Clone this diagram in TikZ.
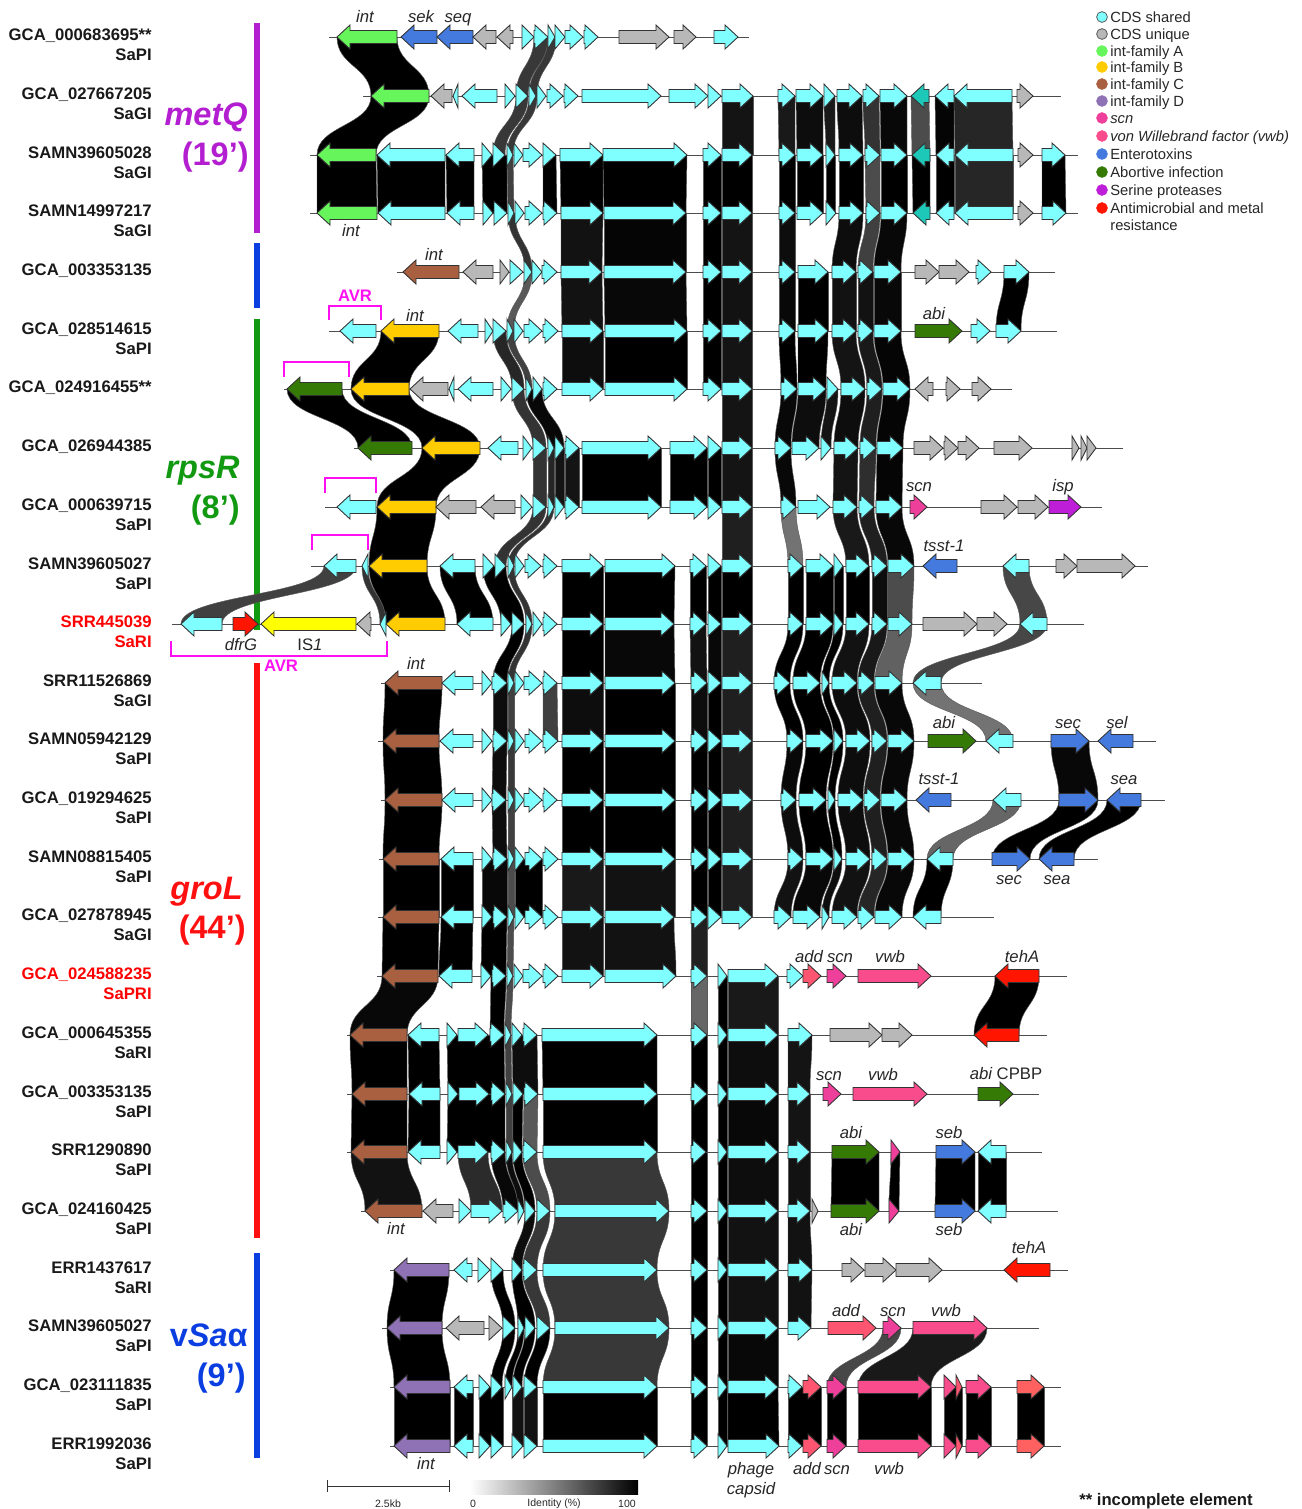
\documentclass[tikz,border=0pt]{standalone}
\usepackage{fontspec}
\setmainfont{Liberation Sans}
\definecolor{cds}{HTML}{7FFFFF}
\definecolor{unq}{HTML}{B8B8B8}
\definecolor{tlc}{HTML}{1EC8B8}
\definecolor{intA}{HTML}{66F55A}
\definecolor{intB}{HTML}{FFCC00}
\definecolor{intC}{HTML}{A86040}
\definecolor{intD}{HTML}{8F72B5}
\definecolor{scnc}{HTML}{EE409A}
\definecolor{vwbc}{HTML}{F84C8C}
\definecolor{addc}{HTML}{FF5570}
\definecolor{salm}{HTML}{FF6060}
\definecolor{ent}{HTML}{4479DD}
\definecolor{abic}{HTML}{357A05}
\definecolor{ser}{HTML}{BE1ED8}
\definecolor{amr}{HTML}{FF1500}
\definecolor{isc}{HTML}{FFFF00}
\definecolor{barP}{HTML}{B31FD0}
\definecolor{barB}{HTML}{0A3EE0}
\definecolor{barG}{HTML}{119911}
\definecolor{barR}{HTML}{FF1010}
\definecolor{avrc}{HTML}{FF10F0}
\tikzset{
  backbone/.style={draw=black!70, line width=0.5pt},
  genearrow/.style={draw=black!80, line width=0.5pt, line join=miter},
  sidebar/.style={line width=3.2pt},
  accession/.style={font=\fontsize{9.5}{11}\selectfont\bfseries, anchor=base east, inner sep=0pt, text=black!90},
  genetag/.style={font=\fontsize{9.5}{11}\selectfont\itshape, text height=1.5ex, text depth=0.45ex, inner sep=0pt, yshift=-0.02cm, text=black!85},
  avrtag/.style={font=\fontsize{9.5}{11}\selectfont\bfseries, text=avrc, inner sep=0pt},
  avrbox/.style={draw=avrc, line width=0.8pt},
  bigtag/.style={font=\fontsize{18.5}{21}\selectfont\bfseries, anchor=base east, inner sep=0pt},
  legendtxt/.style={font=\fontsize{8.4}{10}\selectfont, anchor=west, inner sep=0pt, text height=1.5ex, text depth=0.4ex, text=black!85},
  smalltxt/.style={font=\fontsize{6}{7}\selectfont, inner sep=0pt, text=black!85}
}
\newcommand{\gene}[4]{%
  \pgfmathsetmacro{\neck}{#2-ifthenelse(#2>#1,1,-1)*min(13,abs(#2-#1))}
  \draw[genearrow, fill=#4] (#1,#3-6.5) -- (\neck,#3-6.5) -- (\neck,#3-12) -- (#2,#3)
    -- (\neck,#3+12) -- (\neck,#3+6.5) -- (#1,#3+6.5) -- cycle;
}
\newcommand{\track}[4]{%
  \draw[backbone] (#2,#1) -- (#3,#1);
  \foreach \tl/\hd/\col in {#4}{\gene{\tl}{\hd}{#1}{\col}}
}
\newcommand{\ribbon}[3]{%
  \pgfmathsetmacro{\ymid}{(#1+#2)/2}
  \foreach \aL/\aR/\bL/\bR/\dk in {#3}{
    \filldraw[fill=black!\dk!white, draw=black!65, line width=0.25pt]
      (\aL,#1) .. controls (\aL,\ymid) and (\bL,\ymid) .. (\bL,#2) -- (\bR,#2)
      .. controls (\bR,\ymid) and (\aR,\ymid) .. (\aR,#1) -- cycle;
  }
}
\begin{document}
\begin{tikzpicture}[x=0.02cm, y=-0.02cm]
  \useasboundingbox (0,0) rectangle (1302,1509);

  \draw[sidebar, barP] (257,23) -- (257,233);
  \draw[sidebar, barB] (257,243) -- (257,308);
  \draw[sidebar, barG] (257,319) -- (257,630);
  \draw[sidebar, barR] (257,663) -- (257,1238);
  \draw[sidebar, barB] (257,1253) -- (257,1458);

  \ribbon{37}{96}{337/397/371/429/100, 534/548/516/528/78, 548/556/529/537/78}
  \ribbon{96}{155}{371/429/317/376/100, 516/528/493/505/78, 529/537/507/513/78, 722/753/722/753/92, 778/795/779/795/90, 796/823/797/823/95, 824/835/826/835/90, 837/862/839/863/95, 863/879/865/880/80, 880/907/881/907/97, 911/929/912/930/70, 935/954/936/954/98, 954/1012/955/1013/85}
  \ribbon{155}{213}{317/376/317/377/100, 377/445/378/445/100, 446/474/447/474/100, 482/507/483/507/100, 507/513/508/514/75, 543/556/543/557/100, 560/603/561/603/100, 603/687/604/686/100, 703/721/703/721/100, 722/752/722/752/100, 779/795/779/795/100, 797/823/797/823/100, 826/835/826/835/100, 839/863/839/863/100, 865/880/866/880/70, 881/907/881/907/100, 912/930/913/930/100, 936/954/936/954/100, 955/1013/955/1013/85, 1042/1065/1042/1066/100}
  \ribbon{213}{272}{508/515/525/532/80, 561/603/561/602/93, 604/686/604/686/98, 703/721/703/721/100, 722/752/722/752/92, 779/795/779/795/95, 839/863/832/856/95, 866/880/858/873/75, 881/907/874/901/97}
  \ribbon{272}{331}{525/532/507/514/65, 561/602/562/603/93, 604/686/605/687/97, 703/721/703/721/100, 722/752/722/752/93, 779/795/779/795/97, 798/828/798/828/100, 832/856/832/856/93, 858/873/858/873/93, 874/901/874/901/97, 1004/1029/996/1021/100}
  \ribbon{331}{389}{381/439/351/409/100, 493/506/512/524/85, 507/514/526/532/75, 562/603/562/603/95, 605/687/605/687/100, 703/721/703/721/100, 722/752/722/752/92, 779/795/781/797/100, 798/828/798/826/100, 832/856/841/865/92, 858/873/867/882/90, 874/901/883/910/98}
  \ribbon{389}{448}{287/342/358/412/100, 351/409/422/480/100, 512/524/533/546/80, 526/542/548/564/97, 722/752/722/752/92, 781/797/775/791/97, 798/826/792/819/95, 827/838/821/831/92, 841/865/834/858/95, 867/882/860/876/88, 883/910/877/903/98}
  \ribbon{448}{507}{422/480/377/436/100, 533/546/533/546/80, 548/554/548/554/85, 555/564/555/564/92, 565/579/565/579/92, 582/661/582/661/100, 670/707/670/707/100, 708/721/708/721/100, 722/752/722/752/92, 775/791/781/796/97, 834/858/833/857/92, 860/876/859/874/82, 877/903/876/902/98}
  \ribbon{507}{566}{377/436/369/427/100, 533/546/495/506/80, 548/554/508/514/80, 722/752/722/752/88, 781/796/788/803/55, 833/857/846/869/90, 859/874/872/887/88, 876/902/888/914/97}
  \ribbon{566}{624}{324/356/181/222/75, 362/368/380/386/80, 369/427/386/445/100, 440/475/457/493/100, 483/506/501/524/100, 508/514/526/532/80, 562/603/562/603/100, 605/675/605/674/100, 690/706/690/706/100, 708/721/708/721/100, 722/752/722/752/100, 788/803/788/803/100, 806/833/806/833/100, 834/843/834/843/100, 846/869/846/869/100, 872/887/872/887/95, 888/914/888/912/70, 1003/1029/1020/1047/72}
  \ribbon{624}{683}{512/524/493/507/100, 526/532/508/514/80, 562/603/562/603/100, 605/674/605/675/97, 690/706/691/707/93, 708/721/708/721/97, 722/752/722/752/88, 788/803/774/790/100, 806/833/793/820/100, 834/843/822/829/100, 846/869/832/857/93, 872/887/858/874/90, 888/912/875/902/62, 1020/1047/913/941/72}
  \ribbon{683}{741}{385/442/383/439/100, 493/507/493/507/95, 508/514/508/514/75, 543/557/543/558/75, 562/603/562/603/95, 605/675/605/675/100, 691/707/691/707/95, 708/721/708/721/100, 722/752/722/752/88, 774/790/787/803/100, 793/820/806/833/100, 822/829/834/843/100, 832/857/846/870/95, 858/874/872/887/88, 875/902/888/914/97, 913/941/986/1013/55}
  \ribbon{741}{800}{383/439/385/442/100, 493/507/492/506/95, 508/514/508/514/78, 562/603/562/603/100, 605/675/605/675/100, 691/707/691/707/100, 708/721/708/721/100, 722/752/722/752/88, 787/803/781/796/97, 806/833/799/826/100, 834/843/828/835/100, 846/870/838/863/95, 872/887/864/880/88, 888/914/881/907/97, 1051/1089/1059/1098/97}
  \ribbon{800}{859}{385/442/383/439/100, 492/506/493/507/95, 508/514/508/514/75, 562/603/562/603/100, 605/675/605/675/100, 691/707/691/707/100, 708/721/708/721/100, 722/752/722/752/88, 781/796/788/803/95, 799/826/806/833/100, 828/835/834/842/100, 838/863/846/870/95, 864/880/872/887/88, 881/907/888/914/97, 993/1021/927/953/60, 1059/1098/992/1030/100, 1107/1141/1039/1074/100}
  \ribbon{859}{917}{383/439/383/439/100, 441/473/441/473/100, 482/507/482/507/97, 508/514/508/514/70, 515/542/515/542/100, 562/603/562/603/90, 605/675/605/675/93, 691/707/691/707/100, 708/721/708/721/100, 722/752/722/752/88, 788/803/774/791/93, 806/833/793/820/97, 834/842/822/829/95, 846/870/832/857/93, 872/887/858/874/85, 888/914/875/902/97, 927/953/913/941/100}
  \ribbon{917}{976}{383/439/382/438/100, 441/473/439/472/100, 482/507/481/506/100, 508/514/507/513/70, 562/603/562/603/93, 605/674/605/676/93, 691/707/691/707/87}
  \ribbon{976}{1035}{382/438/350/407/97, 491/506/490/504/100, 507/513/505/511/70, 691/707/691/707/60, 718/727/718/727/100, 728/778/728/778/90, 995/1039/974/1019/100}
  \ribbon{1035}{1094}{350/407/352/407/100, 408/439/409/440/100, 447/504/448/505/100, 505/511/506/512/75, 512/537/513/538/95, 542/657/543/657/100, 691/707/691/707/100, 718/727/718/727/100, 728/778/728/778/95, 788/812/788/810/92}
  \ribbon{1094}{1152}{352/407/351/407/100, 409/440/408/440/100, 448/505/447/505/100, 506/512/506/512/75, 513/523/513/522/100, 524/538/523/537/65, 543/657/543/657/100, 691/707/691/707/100, 718/727/718/727/100, 728/778/728/778/97, 788/810/788/810/92}
  \ribbon{1152}{1211}{351/407/365/422/93, 458/488/471/502/83, 491/505/503/518/97, 506/512/518/524/95, 513/522/525/535/100, 523/537/537/550/70, 543/657/555/669/78, 691/707/691/707/100, 718/727/718/727/100, 728/778/728/778/95, 788/810/788/810/93, 832/879/831/879/100, 891/900/889/899/100, 936/975/935/975/100, 978/1006/978/1006/100}
  \ribbon{1211}{1270}{525/535/512/522/95, 537/550/523/537/78, 555/669/543/657/78, 691/707/691/707/100, 718/727/718/727/100, 728/778/728/778/93, 788/810/788/812/93}
  \ribbon{1270}{1328}{394/449/387/442/100, 491/503/503/515/100, 512/522/518/535/100, 523/537/537/550/78, 543/657/555/669/78, 691/707/691/707/100, 718/727/718/727/100, 728/778/728/778/93, 788/812/788/811/93}
  \ribbon{1328}{1387}{387/442/394/450/100, 503/515/491/502/100, 518/524/505/512/100, 525/535/513/522/100, 537/550/524/537/100, 555/669/543/657/78, 691/707/691/707/100, 718/727/718/727/100, 728/778/728/778/97, 883/901/827/846/72, 913/987/858/931/90}
  \ribbon{1387}{1446}{394/450/394/450/100, 454/473/454/473/100, 479/503/479/503/100, 512/523/512/523/93, 524/537/524/537/93, 543/657/543/657/100, 691/707/691/707/100, 718/727/718/727/100, 728/778/728/779/100, 788/821/788/821/100, 827/846/827/846/100, 858/931/858/931/100, 944/962/944/962/100, 966/991/966/991/100, 1017/1044/1017/1044/100}

  \track{37}{329}{749}{397/337/intA, 437/401/ent, 473/437/ent, 496/473/unq, 513/497/unq, 522/534/cds, 534/548/cds, 548/555/cds, 555/565/cds, 565/583/cds, 584/598/cds, 619/669/unq, 674/696/unq, 714/738/cds}
  \track{96}{363}{1061}{429/371/intA, 452/431/unq, 458/453/cds, 497/462/cds, 505/515/cds, 516/528/cds, 529/536/cds, 537/546/cds, 547/563/cds, 564/578/cds, 582/661/cds, 669/708/cds, 708/721/cds, 722/753/cds, 778/795/cds, 796/823/cds, 824/835/cds, 837/862/cds, 863/879/cds, 880/907/cds, 929/911/tlc, 954/935/cds, 1012/954/cds, 1017/1033/unq}
  \track{155}{310}{1078}{376/317/intA, 445/377/cds, 474/446/cds, 482/492/cds, 493/505/cds, 507/513/cds, 514/523/cds, 523/542/cds, 543/556/cds, 560/603/cds, 603/687/cds, 703/721/cds, 722/752/cds, 779/795/cds, 797/823/cds, 826/835/cds, 839/863/cds, 865/880/cds, 881/907/cds, 930/912/tlc, 954/936/cds, 1013/955/cds, 1018/1033/unq, 1042/1065/cds}
  \track{213}{310}{1078}{377/317/intA, 445/378/cds, 474/447/cds, 483/493/cds, 494/507/cds, 508/514/cds, 515/524/cds, 525/542/cds, 543/557/cds, 561/603/cds, 604/686/cds, 703/721/cds, 722/752/cds, 779/795/cds, 797/823/cds, 826/836/cds, 839/863/cds, 866/880/cds, 881/907/cds, 930/913/tlc, 954/936/cds, 1013/955/cds, 1018/1033/unq, 1042/1066/cds}
  \track{272}{397}{1055}{459/403/intC, 493/463/unq, 500/509/unq, 510/523/cds, 524/532/cds, 532/542/cds, 542/557/cds, 561/602/cds, 604/686/cds, 703/721/cds, 722/752/cds, 779/795/cds, 798/828/cds, 832/856/cds, 858/873/cds, 874/901/cds, 915/939/unq, 939/969/unq, 976/991/cds, 1004/1029/cds}
  \track{331}{329}{1057}{376/340/cds, 439/381/intB, 478/448/cds, 485/493/cds, 493/506/cds, 507/513/cds, 514/523/cds, 524/542/cds, 543/558/cds, 562/603/cds, 605/687/cds, 703/721/cds, 722/752/cds, 779/795/cds, 798/828/cds, 832/856/cds, 858/873/cds, 874/901/cds, 915/962/abic, 971/990/cds, 996/1021/cds}
  \track{389}{284}{1012}{342/287/abic, 409/351/intB, 448/410/unq, 454/449/cds, 493/458/cds, 501/511/cds, 512/524/cds, 526/532/cds, 533/542/cds, 543/557/cds, 562/603/cds, 605/687/cds, 703/721/cds, 722/752/cds, 781/797/cds, 798/826/cds, 827/838/cds, 841/865/cds, 867/882/cds, 883/910/cds, 933/915/unq, 946/960/unq, 972/991/unq}
  \track{448}{354}{1123}{412/358/abic, 480/422/intB, 518/488/cds, 523/532/cds, 533/546/cds, 548/554/cds, 555/564/cds, 565/579/cds, 582/661/cds, 670/707/cds, 708/721/cds, 722/752/cds, 775/791/cds, 792/819/cds, 821/831/cds, 834/858/cds, 860/876/cds, 877/903/cds, 914/943/unq, 944/958/unq, 958/979/unq, 994/1032/unq, 1072/1079/unq, 1081/1087/unq, 1087/1096/unq}
  \track{507}{325}{1102}{376/337/cds, 436/377/intB, 476/436/unq, 515/481/unq, 521/532/cds, 533/546/cds, 548/554/cds, 555/564/cds, 565/579/cds, 582/661/cds, 670/707/cds, 708/721/cds, 722/752/cds, 781/796/cds, 798/830/cds, 833/857/cds, 859/874/cds, 876/902/cds, 910/927/scnc, 981/1017/unq, 1018/1048/unq, 1049/1081/ser}
  \track{566}{311}{1148}{356/324/cds, 368/362/cds, 427/369/intB, 475/440/cds, 483/494/cds, 495/506/cds, 508/514/cds, 515/524/cds, 525/541/cds, 543/557/cds, 562/603/cds, 605/675/cds, 690/706/cds, 708/721/cds, 722/752/cds, 788/803/cds, 806/833/cds, 834/843/cds, 846/869/cds, 872/887/cds, 888/914/cds, 957/923/ent, 1029/1003/cds, 1056/1077/unq, 1077/1135/unq}
  \track{624}{172}{1084}{222/181/cds, 233/258/amr, 356/261/isc, 371/357/unq, 386/380/cds, 445/386/intB, 493/457/cds, 501/511/cds, 512/524/cds, 526/532/cds, 533/542/cds, 543/557/cds, 562/603/cds, 605/674/cds, 690/706/cds, 708/721/cds, 722/752/cds, 788/803/cds, 806/833/cds, 834/843/cds, 846/869/cds, 872/887/cds, 888/912/cds, 923/977/unq, 977/1007/unq, 1047/1020/cds}
  \track{683}{381}{982}{442/385/intC, 473/442/cds, 482/492/cds, 492/507/cds, 508/514/cds, 515/524/cds, 524/542/cds, 543/557/cds, 562/603/cds, 605/675/cds, 691/707/cds, 708/721/cds, 722/752/cds, 774/790/cds, 793/820/cds, 822/829/cds, 832/857/cds, 858/874/cds, 875/902/cds, 941/913/cds}
  \track{741}{378}{1156}{439/383/intC, 473/440/cds, 482/492/cds, 493/507/cds, 508/514/cds, 515/524/cds, 525/542/cds, 543/558/cds, 562/603/cds, 605/675/cds, 691/707/cds, 708/721/cds, 722/752/cds, 787/803/cds, 806/833/cds, 834/843/cds, 846/870/cds, 872/887/cds, 888/914/cds, 928/976/abic, 1013/986/cds, 1051/1089/ent, 1133/1098/ent}
  \track{800}{381}{1165}{442/385/intC, 473/442/cds, 482/492/cds, 492/506/cds, 508/514/cds, 515/524/cds, 524/542/cds, 543/557/cds, 562/603/cds, 605/675/cds, 691/707/cds, 708/721/cds, 722/752/cds, 781/796/cds, 799/826/cds, 828/835/cds, 838/863/cds, 864/880/cds, 881/907/cds, 951/916/ent, 1021/993/cds, 1059/1098/ent, 1141/1107/ent}
  \track{859}{379}{1098}{439/383/intC, 473/441/cds, 482/492/cds, 493/507/cds, 508/514/cds, 515/524/cds, 525/542/cds, 543/558/cds, 562/603/cds, 605/675/cds, 691/707/cds, 708/721/cds, 722/752/cds, 788/803/cds, 806/833/cds, 834/842/cds, 846/870/cds, 872/887/cds, 888/914/cds, 953/927/cds, 992/1030/ent, 1074/1039/ent}
  \track{917}{378}{994}{439/383/intC, 473/441/cds, 482/492/cds, 493/507/cds, 508/514/cds, 515/524/cds, 525/542/cds, 543/558/cds, 562/603/cds, 605/674/cds, 691/707/cds, 708/721/cds, 722/752/cds, 774/791/cds, 793/820/cds, 822/829/cds, 832/857/cds, 858/874/cds, 875/902/cds, 941/913/cds}
  \track{976}{377}{1067}{438/382/intC, 472/439/cds, 481/491/cds, 492/506/cds, 507/513/cds, 514/523/cds, 523/542/cds, 543/558/cds, 562/603/cds, 605/676/cds, 691/707/cds, 718/727/cds, 728/778/cds, 787/803/cds, 803/821/addc, 827/846/scnc, 858/931/vwbc, 1039/995/amr}
  \track{1035}{347}{1047}{407/350/intC, 439/408/cds, 447/457/cds, 458/488/cds, 490/504/cds, 505/511/cds, 512/522/cds, 523/537/cds, 542/657/cds, 691/707/cds, 718/727/cds, 728/778/cds, 788/812/cds, 830/882/unq, 882/912/unq, 1019/974/amr}
  \track{1094}{347}{1039}{407/352/intC, 440/409/cds, 448/458/cds, 459/489/cds, 491/505/cds, 506/512/cds, 513/523/cds, 524/538/cds, 543/657/cds, 691/707/cds, 718/727/cds, 728/778/cds, 788/810/cds, 823/841/scnc, 853/927/vwbc, 978/1013/abic}
  \track{1152}{347}{1042}{407/351/intC, 440/408/cds, 447/457/cds, 458/488/cds, 491/505/cds, 506/512/cds, 513/522/cds, 523/537/cds, 543/657/cds, 691/706/cds, 718/727/cds, 728/778/cds, 788/810/cds, 832/879/abic, 891/900/scnc, 936/975/ent, 1006/978/cds}
  \track{1211}{361}{1058}{422/365/intC, 453/423/unq, 459/471/cds, 471/502/cds, 503/518/cds, 518/524/cds, 525/535/cds, 537/550/cds, 555/669/cds, 691/707/cds, 718/727/cds, 728/778/cds, 788/810/cds, 812/818/unq, 831/879/abic, 889/899/scnc, 935/975/ent, 1006/978/cds}
  \track{1270}{390}{1068}{449/394/intD, 472/454/cds, 478/490/cds, 491/503/cds, 512/522/cds, 523/537/cds, 543/657/cds, 691/707/cds, 718/727/cds, 728/778/cds, 788/812/cds, 842/864/unq, 865/896/unq, 896/942/unq, 1050/1004/amr}
  \track{1328}{382}{1039}{442/387/intD, 484/446/unq, 489/502/unq, 503/515/cds, 518/524/cds, 525/535/cds, 537/550/cds, 555/669/cds, 691/707/cds, 718/727/cds, 728/778/cds, 788/811/cds, 828/876/addc, 883/901/scnc, 913/987/vwbc}
  \track{1387}{390}{1061}{450/394/intD, 473/454/cds, 479/490/cds, 491/502/cds, 505/512/cds, 513/522/cds, 524/537/cds, 543/657/cds, 691/707/cds, 718/727/cds, 728/778/cds, 788/802/cds, 803/821/addc, 827/846/scnc, 858/931/vwbc, 944/956/vwbc, 956/962/addc, 966/991/vwbc, 1017/1044/salm}
  \track{1446}{390}{1061}{450/394/intD, 473/454/cds, 479/490/cds, 491/503/cds, 512/523/cds, 524/537/cds, 543/657/cds, 691/707/cds, 718/727/cds, 728/779/cds, 788/802/cds, 803/821/addc, 827/846/scnc, 858/931/vwbc, 944/956/vwbc, 956/962/addc, 966/991/vwbc, 1017/1044/salm}

  \foreach \y/\acc in {37/GCA\_000683695**, 96/GCA\_027667205, 155/SAMN39605028, 213/SAMN14997217, 272/GCA\_003353135, 331/GCA\_028514615, 389/GCA\_024916455**, 448/GCA\_026944385, 507/GCA\_000639715, 566/SAMN39605027, 683/SRR11526869, 741/SAMN05942129, 800/GCA\_019294625, 859/SAMN08815405, 917/GCA\_027878945, 1035/GCA\_000645355, 1094/GCA\_003353135, 1152/SRR1290890, 1211/GCA\_024160425, 1270/ERR1437617, 1328/SAMN39605027, 1387/GCA\_023111835, 1446/ERR1992036}
    \node[accession] (acc\y) at (152,\y+3.5) {\acc};
  \foreach \y/\typ in {37/SaPI, 96/SaGI, 155/SaGI, 213/SaGI, 331/SaPI, 507/SaPI, 566/SaPI, 683/SaGI, 741/SaPI, 800/SaPI, 859/SaPI, 917/SaGI, 1035/SaRI, 1094/SaPI, 1152/SaPI, 1211/SaPI, 1270/SaRI, 1328/SaPI, 1387/SaPI, 1446/SaPI}
    \node[accession] (typ\y) at (152,\y+23.5) {\typ};
  \node[accession, text=red] (acc624) at (152,627.5) {SRR445039};
  \node[accession, text=red] (typ624) at (152,647.5) {SaRI};
  \node[accession, text=red] (acc976) at (152,979.5) {GCA\_024588235};
  \node[accession, text=red] (typ976) at (152,999.5) {SaPRI};

  \node[bigtag, text=barP] (metq) at (248,125) {\itshape metQ};
  \node[bigtag, text=barP] (metqb) at (249,165) {(19’)};
  \node[bigtag, text=barG] (rpsr) at (240,478) {\itshape rpsR};
  \node[bigtag, text=barG] (rpsrb) at (240,518) {(8’)};
  \node[bigtag, text=barR] (grol) at (243,899) {\itshape groL};
  \node[bigtag, text=barR] (grolb) at (246,938) {(44’)};
  \node[bigtag, text=barB] (vsaa) at (248,1346) {v\itshape Sa\upshape α};
  \node[bigtag, text=barB] (vsaab) at (246,1386) {(9’)};

  \foreach \x/\y/\txt [count=\n] in {365/17/int, 421/17/sek, 458/17/seq, 351/231/int, 434/255/int, 415/316/int, 934/314/abi, 919/486/scn, 1063/486/isp, 944/546/tsst-1, 241/645/dfrG, 416/664/int, 944/723/abi, 1068/723/sec, 1117/723/sel, 939/779/tsst-1, 1124/779/sea, 1009/879/sec, 1057/879/sea, 809/957/add, 840/957/scn, 890/957/vwb, 1022/957/tehA, 829/1075/scn, 883/1075/vwb, 851/1133/abi, 949/1133/seb, 851/1230/abi, 949/1230/seb, 396/1229/int, 1029/1248/tehA, 846/1311/add, 893/1311/scn, 946/1311/vwb, 426/1464/int, 751/1469/phage, 751/1489/capsid, 807/1469/add, 837/1469/scn, 889/1469/vwb}
    \node[genetag] (tag\n) at (\x,\y) {\txt};
  \node[genetag] (tagis) at (310,645) {\upshape IS\itshape 1};
  \node[genetag] (tagcpbp) at (1006,1074) {abi \upshape CPBP};

  \draw[avrbox] (329,320) -- (329,306) -- (381,306) -- (381,320);
  \draw[avrbox] (284,377) -- (284,362) -- (349,362) -- (349,377);
  \draw[avrbox] (325,493) -- (325,478) -- (376,478) -- (376,493);
  \draw[avrbox] (312,550) -- (312,535) -- (368,535) -- (368,550);
  \draw[avrbox] (171,641) -- (171,656) -- (387,656) -- (387,641);
  \node[avrtag] (avra) at (355,296) {AVR};
  \node[avrtag] (avrb) at (281,666) {AVR};

  \foreach \y/\fc/\dc/\txt [count=\n] in {17/cds/black!70/CDS shared, 34/unq/black!70/CDS unique, 51/intA/intA/int-family A, 67/intB/intB/int-family B, 84/intC/intC/int-family C, 101/intD/intD/int-family D, 118/scnc/scnc/\textit{scn}, 136/vwbc/vwbc/\textit{von Willebrand factor (vwb)}, 154/ent/ent/Enterotoxins, 172/abic/abic/Abortive infection, 190/ser/ser/Serine proteases, 208/amr/amr/Antimicrobial and metal}{
    \filldraw[fill=\fc, draw=\dc, line width=0.4pt] (1102,\y) circle (5.4);
    \node[legendtxt] (leg\n) at (1110,\y) {\txt};
  }
  \node[legendtxt] (leg13) at (1110,225) {resistance};

  \coordinate (scalea) at (327,1486);
  \coordinate (scaleb) at (449,1486);
  \draw[black!80, line width=0.5pt] (scalea) -- (scaleb);
  \draw[black!80, line width=0.5pt] (327,1480) -- (327,1492);
  \draw[black!80, line width=0.5pt] (449,1480) -- (449,1492);
  \node[smalltxt] (scalelab) at (388,1504) {2.5kb};
  \shade[left color=white, right color=black] (470,1480) rectangle (638,1494);
  \node[smalltxt] (idlo) at (473,1504) {0};
  \node[smalltxt] (idmid) at (554,1504) {Identity (\%)};
  \node[smalltxt] (idhi) at (627,1504) {100};
  \node[accession, anchor=base] (incomplete) at (1166,1505) {** incomplete element};
\end{tikzpicture}
\end{document}
